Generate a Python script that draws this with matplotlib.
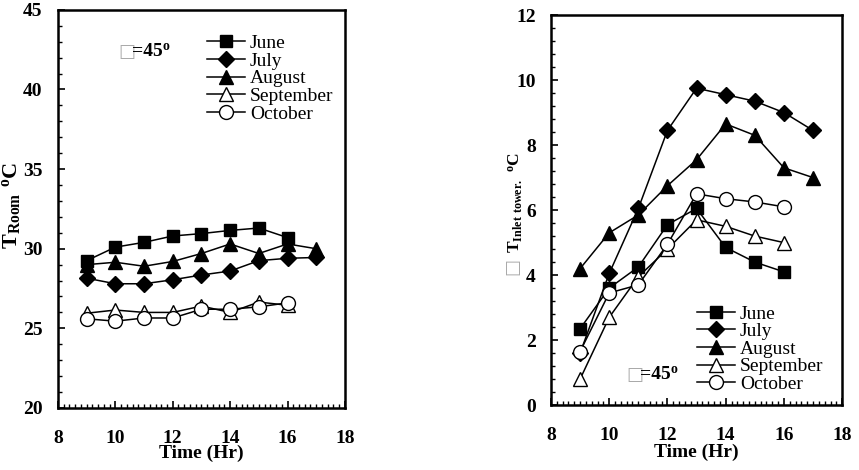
import matplotlib
matplotlib.use("Agg")
import matplotlib.pyplot as plt
from matplotlib.ticker import MultipleLocator

plt.rcParams['font.family'] = ['Liberation Serif', 'DejaVu Sans']
plt.rcParams['mathtext.fontset'] = 'custom'
plt.rcParams['mathtext.rm'] = 'Liberation Serif'
plt.rcParams['mathtext.bf'] = 'Liberation Serif:bold'

months = ["June", "July", "August", "September", "October"]
hours_jun = [9, 10, 11, 12, 13, 14, 15, 16]
hours_jul = [9, 10, 11, 12, 13, 14, 15, 16, 17]
hours_aug = [9, 10, 11, 12, 13, 14, 15, 16, 17]
hours_sep = [9, 10, 11, 12, 13, 14, 15, 16]
hours_oct = [9, 10, 11, 12, 13, 14, 15, 16]

# room temperature (left)
room_jun = [29.25, 30.1, 30.4, 30.8, 30.95, 31.15, 31.3, 30.7]
room_jul = [28.15, 27.8, 27.8, 28.05, 28.35, 28.6, 29.25, 29.4, 29.45]
room_aug = [29.0, 29.15, 28.9, 29.2, 29.7, 30.3, 29.7, 30.3, 30.0]
room_sep = [25.95, 26.15, 26.0, 26.0, 26.4, 26.0, 26.65, 26.45]
room_oct = [25.6, 25.45, 25.65, 25.65, 26.2, 26.2, 26.35, 26.6]

# inlet tower temperature (right)
inlet_jun = [2.35, 3.6, 4.25, 5.55, 6.05, 4.85, 4.4, 4.1]
inlet_jul = [1.6, 4.05, 6.05, 8.45, 9.75, 9.55, 9.35, 9.0, 8.45]
inlet_aug = [4.2, 5.3, 5.85, 6.75, 7.55, 8.65, 8.3, 7.3, 7.0]
inlet_sep = [0.8, 2.7, 3.95, 4.8, 5.7, 5.5, 5.2, 5.0]
inlet_oct = [1.65, 3.45, 3.7, 4.95, 6.5, 6.35, 6.25, 6.1]

styles = [
    dict(marker='s', mfc='black', ms=8),
    dict(marker='D', mfc='black', ms=8),
    dict(marker='^', mfc='black', ms=10),
    dict(marker='^', mfc='white', ms=10),
    dict(marker='o', mfc='white', ms=10),
]


def draw(ax, series):
    for (x, y), name, st in zip(series, months, styles):
        ax.plot(x, y, color='black', lw=1.1, mec='black', mew=1.0,
                label=name, **st)


def style_axes(ax, ylim, ymaj, ymin, xlab_y):
    ax.set_xlim(8, 18)
    ax.set_ylim(*ylim)
    ax.xaxis.set_major_locator(MultipleLocator(2))
    ax.xaxis.set_minor_locator(MultipleLocator(0.2))
    ax.yaxis.set_major_locator(MultipleLocator(ymaj))
    ax.yaxis.set_minor_locator(MultipleLocator(ymin))
    ax.tick_params(which='both', direction='in', top=False, right=False,
                   labelsize=14)
    ax.tick_params(axis='x', which='major', pad=16)
    ax.tick_params(axis='y', which='major', pad=11)
    ax.tick_params(which='major', length=5, width=1.2)
    ax.tick_params(which='minor', length=3, width=1.0)
    for lab in ax.get_xticklabels() + ax.get_yticklabels():
        lab.set_fontweight('bold')
    for sp in ax.spines.values():
        sp.set_linewidth(1.8)
    ax.set_xlabel("Time (Hr)", fontsize=14, fontweight='bold')
    ax.xaxis.set_label_coords(0.5, xlab_y)


def legend(ax, **kw):
    ax.legend(frameon=False, fontsize=14, handlelength=1.95,
              handletextpad=0.26, labelspacing=0.0, borderpad=0,
              borderaxespad=0, **kw)


def beta_note(ax, x, y):
    # the angle symbol shows as a missing-glyph box in the source figure
    ax.text(x, y, "\u25a1", transform=ax.transAxes, color='#aaaaaa',
            fontsize=13, family=['DejaVu Sans'], va='center')
    t = ax.text(x + 0.047, y, "=45", transform=ax.transAxes, fontsize=14,
                fontweight='bold', va='center')
    ax.annotate("o", xy=(1, 1), xycoords=t, xytext=(0.3, 2),
                textcoords='offset points', fontsize=10, fontweight='bold',
                va='top', ha='left')


fig = plt.figure(figsize=(8.59, 4.70), dpi=100)
ax1 = fig.add_axes([0.0675, 0.132, 0.334, 0.847])
ax2 = fig.add_axes([0.6414, 0.138, 0.339, 0.830])

draw(ax1, [(hours_jun, room_jun), (hours_jul, room_jul), (hours_aug, room_aug),
           (hours_sep, room_sep), (hours_oct, room_oct)])
style_axes(ax1, (20, 45), 5, 1, -0.092)
ax1.set_ylabel(r"$\mathbf{T_{Room}\ {}^{o}C}$", fontsize=16)
ax1.yaxis.set_label_coords(-0.122, 0.51)
legend(ax1, loc='upper left', bbox_to_anchor=(0.519, 0.938))
beta_note(ax1, 0.21, 0.895)

draw(ax2, [(hours_jun, inlet_jun), (hours_jul, inlet_jul), (hours_aug, inlet_aug),
           (hours_sep, inlet_sep), (hours_oct, inlet_oct)])
style_axes(ax2, (0, 12), 2, 0.4, -0.1)
ax2.set_ylabel(r"$\mathbf{T_{Inlet\ tower.}\ {}^{o}C}$", fontsize=12.5)
ax2.yaxis.set_label_coords(-0.09, 0.52)
ax2.text(-0.134, 0.355, "\u25a1", transform=ax2.transAxes, color='#aaaaaa',
         fontsize=13, family=['DejaVu Sans'], va='center', ha='center',
         rotation=90)
legend(ax2, loc='lower left', bbox_to_anchor=(0.502, 0.031))
beta_note(ax2, 0.258, 0.078)

fig.savefig("out.png", dpi=100)
